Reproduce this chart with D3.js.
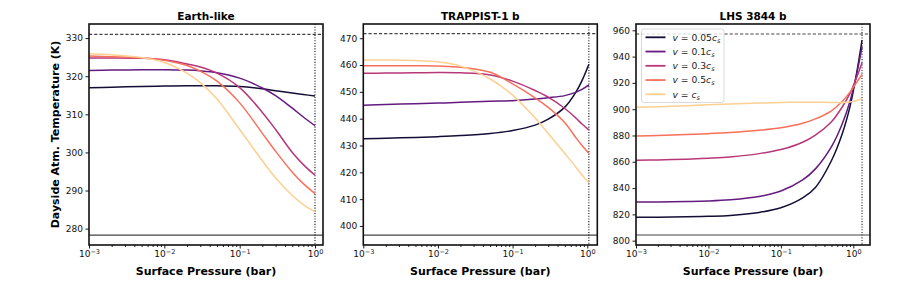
<!DOCTYPE html>
<html><head><meta charset="utf-8">
<script src="https://cdn.jsdelivr.net/npm/d3@7/dist/d3.min.js"></script>
<style>
body{margin:0;background:#fff;}
text{font-family:"DejaVu Sans",sans-serif;}
</style>
</head><body>
<svg id="chart" width="897" height="299"></svg>
<script>
// ---------------- data ----------------
const panelTitles = ["Earth-like", "TRAPPIST-1 b", "LHS 3844 b"];
const seriesLabels = ["0.05", "0.1", "0.3", "0.5", ""];   // v = label * c_s

const earthPressure = [0.001, 0.002, 0.005, 0.01, 0.02, 0.03, 0.05, 0.1, 0.2, 0.3, 0.5, 0.7, 1.0];
const earthV005 = [317.0, 317.1, 317.3, 317.4, 317.5, 317.5, 317.5, 317.3, 316.7, 316.2, 315.6, 315.2, 314.8];
const earthV01  = [321.5, 321.6, 321.7, 321.7, 321.6, 321.4, 320.9, 319.5, 316.9, 314.9, 311.6, 309.3, 307.0];
const earthV03  = [324.8, 324.8, 324.7, 324.3, 323.2, 322.4, 320.8, 317.0, 310.5, 306.0, 300.0, 296.8, 294.0];
const earthV05  = [325.3, 325.1, 324.8, 324.2, 322.8, 321.3, 318.7, 313.0, 305.0, 300.3, 294.8, 291.8, 289.2];
const earthV1   = [325.9, 325.6, 324.9, 323.6, 320.8, 318.3, 314.0, 306.0, 297.8, 293.3, 288.7, 286.3, 284.4];

const trapPressure = [0.001, 0.002, 0.005, 0.01, 0.02, 0.05, 0.1, 0.2, 0.3, 0.5, 0.7, 0.85, 1.05];
const trapV005 = [432.5, 432.7, 433.0, 433.3, 433.7, 434.5, 435.6, 437.6, 439.8, 444.3, 449.8, 454.2, 460.3];
const trapV01  = [445.0, 445.3, 445.6, 445.8, 446.1, 446.5, 446.7, 447.3, 447.8, 448.6, 449.8, 450.9, 452.6];
const trapV03  = [456.9, 457.0, 457.1, 457.2, 457.1, 456.3, 454.0, 450.5, 448.0, 443.8, 440.3, 438.0, 435.8];
const trapV05  = [459.7, 459.7, 459.7, 459.6, 459.2, 457.3, 453.0, 447.8, 444.2, 438.5, 433.0, 430.0, 427.1];
const trapV1   = [461.9, 461.9, 461.7, 461.2, 459.6, 454.8, 448.8, 440.3, 434.5, 427.0, 422.0, 419.0, 416.1];

const lhsPressure = [0.001, 0.002, 0.005, 0.01, 0.02, 0.05, 0.1, 0.2, 0.3, 0.5, 0.7, 0.9, 1.1, 1.32];
const lhsV005 = [817.8, 817.9, 818.1, 818.5, 819.2, 821.5, 825.0, 832.5, 840.5, 861.0, 881.0, 902.0, 926.0, 952.6];
const lhsV01  = [829.4, 829.5, 829.8, 830.2, 831.1, 833.6, 837.8, 846.2, 854.6, 871.5, 888.5, 906.0, 925.5, 947.5];
const lhsV03  = [861.1, 861.4, 862.0, 862.7, 863.7, 866.2, 869.3, 874.9, 880.3, 890.5, 901.5, 912.0, 923.5, 935.4];
const lhsV05  = [879.6, 880.0, 880.7, 881.4, 882.3, 884.0, 885.9, 889.3, 892.6, 898.8, 905.8, 913.0, 920.0, 926.5];
const lhsV1   = [901.4, 901.9, 902.7, 903.4, 904.0, 904.7, 905.1, 905.3, 905.3, 905.1, 905.0, 905.4, 906.4, 908.2];

const yTicksEarth = [280, 290, 300, 310, 320, 330];
const yTicksTrap  = [400, 410, 420, 430, 440, 450, 460, 470];
const yTicksLhs   = [800, 820, 840, 860, 880, 900, 920, 940, 960];
const xTicks = [0.001, 0.01, 0.1, 1];

// reference levels: upper dashed, lower solid, dotted vertical pressure
const upperLevels = [331.0, 471.7, 957.2];
const lowerLevels = [278.3, 396.6, 804.3];
const dottedPressure = [1.0, 1.05, 1.32];

// axis limits
const xMax = [1.277, 1.362, 1.70];
const yLims = [[275.7, 333.7], [392.9, 475.3], [796.7, 964.8]];

// ---------------- style ----------------
const colors = [0.1, 0.3, 0.5, 0.7, 0.9].map(t => d3.interpolateMagma(t));
const panelLeft = [89, 363.3, 636];
const panelW = 234, panelTop = 24, panelH = 221;

const panels = [
  {p: earthPressure, s: [earthV005, earthV01, earthV03, earthV05, earthV1], yt: yTicksEarth},
  {p: trapPressure,  s: [trapV005, trapV01, trapV03, trapV05, trapV1],       yt: yTicksTrap},
  {p: lhsPressure,   s: [lhsV005, lhsV01, lhsV03, lhsV05, lhsV1],            yt: yTicksLhs}
];

const svg = d3.select("#chart");
const supers = {"-3":"−3","-2":"−2","-1":"−1","0":"0"};

function minorTicks(lo, hi) {
  const out = [];
  for (let e = -3; e <= 0; e++) for (let m = 2; m <= 9; m++) {
    const v = m * Math.pow(10, e);
    if (v > lo && v < hi) out.push(v);
  }
  return out;
}

panels.forEach((pan, i) => {
  const g = svg.append("g").attr("transform", `translate(${panelLeft[i]},${panelTop})`);
  const x = d3.scaleLog().domain([0.001, xMax[i]]).range([0, panelW]);
  const y = d3.scaleLinear().domain(yLims[i]).range([panelH, 0]);

  // reference lines
  g.append("line").attr("x1", 0).attr("x2", panelW)
    .attr("y1", y(upperLevels[i])).attr("y2", y(upperLevels[i]))
    .attr("stroke", "#444").attr("stroke-width", 1.2).attr("stroke-dasharray", "3.2,2");
  g.append("line").attr("x1", 0).attr("x2", panelW)
    .attr("y1", y(lowerLevels[i])).attr("y2", y(lowerLevels[i]))
    .attr("stroke", "#444").attr("stroke-width", 1.2);
  g.append("line").attr("x1", x(dottedPressure[i])).attr("x2", x(dottedPressure[i]))
    .attr("y1", 0).attr("y2", panelH)
    .attr("stroke", i === 2 ? "#555" : "#111").attr("stroke-width", i === 2 ? 1.4 : 1.1)
    .attr("stroke-dasharray", "1.1,1.6");

  // data lines
  const line = d3.line().x(d => x(d[0])).y(d => y(d[1])).curve(d3.curveCatmullRom.alpha(0.5));
  pan.s.forEach((vals, k) => {
    g.append("path").datum(pan.p.map((pp, j) => [pp, vals[j]]))
      .attr("d", line).attr("fill", "none")
      .attr("stroke", colors[k]).attr("stroke-width", 1.5);
  });

  // axes
  const ya = g.append("g").call(d3.axisLeft(y).tickValues(pan.yt).tickSize(3.5).tickPadding(2.5).tickFormat(d3.format("d")));
  ya.select(".domain").remove();
  ya.selectAll("text").attr("font-size", 9).attr("fill", "#111").attr("font-family", "DejaVu Sans");

  const xa = g.append("g").attr("transform", `translate(0,${panelH})`)
    .call(d3.axisBottom(x).tickValues(xTicks.filter(v => v <= xMax[i])).tickSize(3.5).tickPadding(2.5).tickFormat(""));
  xa.select(".domain").remove();
  xa.selectAll(".tick text").each(function(d) {
    const e = String(Math.round(Math.log10(d)));
    const t = d3.select(this).attr("font-size", 9).attr("fill", "#111").attr("font-family", "DejaVu Sans");
    t.append("tspan").text("10");
    t.append("tspan").attr("dy", "-0.45em").attr("font-size", 6.5).text(supers[e]);
  });
  const xm = g.append("g").attr("transform", `translate(0,${panelH})`)
    .call(d3.axisBottom(x).tickValues(minorTicks(0.001, xMax[i])).tickSize(2).tickFormat(""));
  xm.select(".domain").remove();
  g.selectAll(".tick line").attr("stroke", "#000").attr("stroke-width", 0.9);

  // frame
  g.append("rect").attr("x", 0).attr("y", 0).attr("width", panelW).attr("height", panelH)
    .attr("fill", "none").attr("stroke", "#111").attr("stroke-width", 1.6);

  // title & x label
  g.append("text").attr("x", panelW / 2).attr("y", -4).attr("text-anchor", "middle")
    .attr("font-size", 10.5).attr("font-weight", "bold").text(panelTitles[i]);
  g.append("text").attr("x", panelW / 2).attr("y", panelH + 29.5).attr("text-anchor", "middle")
    .attr("font-size", 11).attr("font-weight", "bold").text("Surface Pressure (bar)");

  if (i === 0) {
    g.append("text").attr("transform", `translate(-30,${panelH / 2}) rotate(-90)`)
      .attr("text-anchor", "middle").attr("font-size", 11).attr("font-weight", "bold")
      .text("Dayside Atm. Temperature (K)");
  }

  if (i === 2) {
    const lg = g.append("g").attr("transform", "translate(5.5,5)");
    lg.append("rect").attr("x", 0).attr("y", 0).attr("width", 82.5).attr("height", 73.5)
      .attr("rx", 2.5).attr("fill", "#fff").attr("fill-opacity", 0.8)
      .attr("stroke", "#d0d0d0").attr("stroke-width", 0.8);
    seriesLabels.forEach((lab, k) => {
      const yy = 8.3 + k * 14.25;
      lg.append("line").attr("x1", 4).attr("x2", 24).attr("y1", yy).attr("y2", yy)
        .attr("stroke", colors[k]).attr("stroke-width", 1.8);
      const t = lg.append("text").attr("x", 31).attr("y", yy + 3.4).attr("font-size", 9.2).attr("fill", "#222");
      t.append("tspan").attr("font-style", "italic").text("v");
      t.append("tspan").text(" = " + lab);
      t.append("tspan").attr("font-style", "italic").text("c");
      t.append("tspan").attr("font-style", "italic").attr("font-size", 6.5).attr("dy", "2").text("s");
    });
  }
});
</script>
</body></html>
